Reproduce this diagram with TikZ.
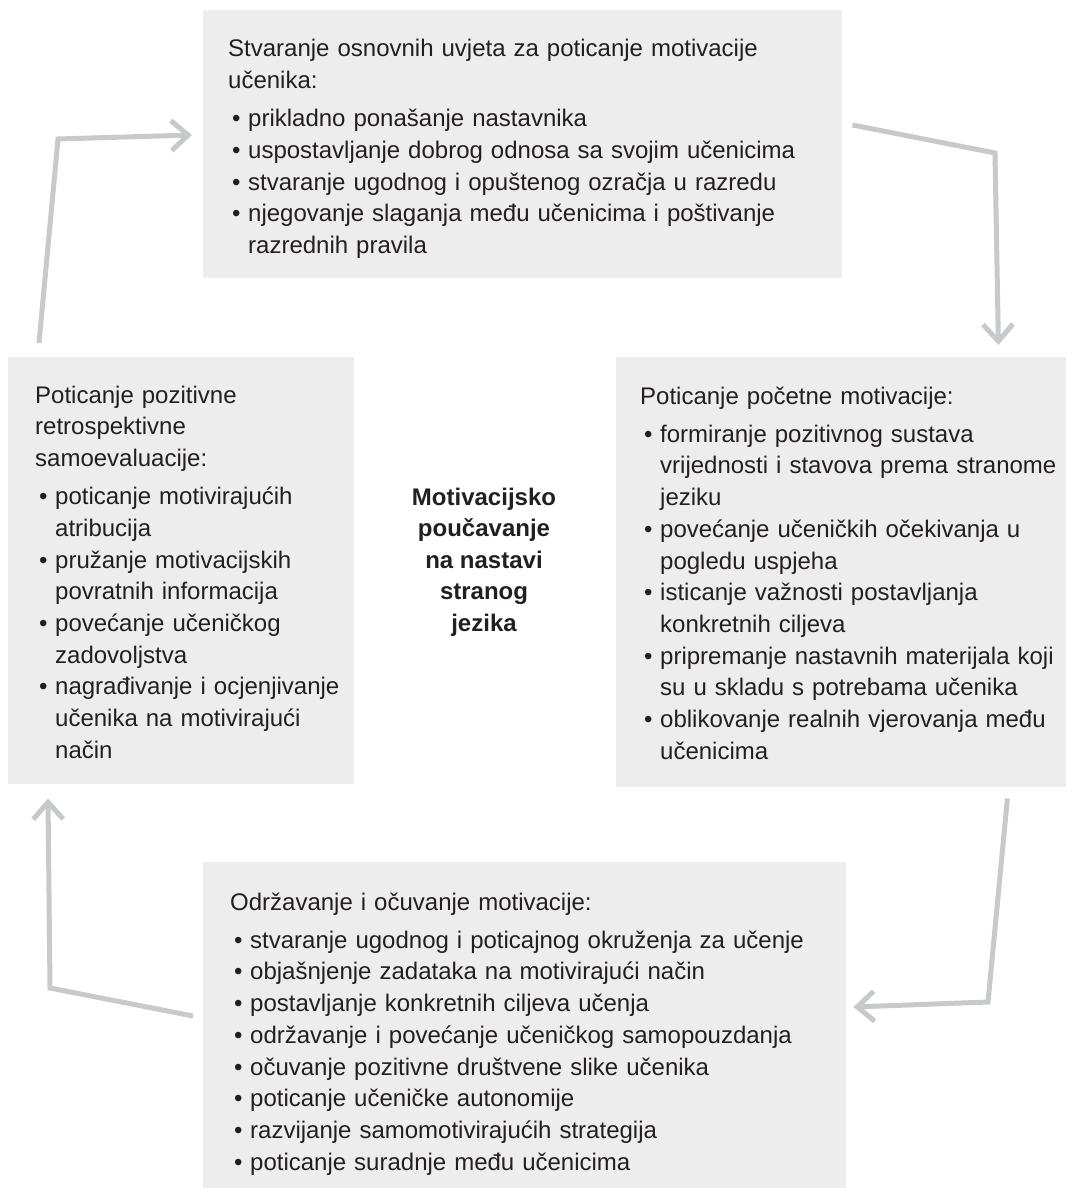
\documentclass[tikz,border=0pt]{standalone}
\usepackage{fontspec}
\setmainfont{Liberation Sans}
\usetikzlibrary{positioning,arrows.meta}
\definecolor{okvirsiva}{HTML}{EDEDED}
\definecolor{strelicasiva}{HTML}{C8C9CB}
\definecolor{tekst}{HTML}{231F20}
\newcommand{\naslov}[1]{#1\par\vspace{6.5pt}}
\newcommand{\stavka}[1]{\par\hangindent=20pt\hangafter=1\noindent\hspace*{4pt}\makebox[16pt][l]{\textbullet}#1\par}

\begin{document}
\begin{tikzpicture}[x=1pt, y=-1pt,
  okvir/.style={fill=okvirsiva, anchor=north west, inner sep=0pt},
  popis/.style={anchor=base west, inner sep=0pt, align=left, text=tekst, font=\fontsize{24}{31.7}\selectfont},
  sredina/.style={align=center, text=tekst, font=\bfseries\fontsize{24}{31.5}\selectfont},
  strelica/.style={draw=strelicasiva, line width=5pt, -{Straight Barb[length=17pt,width=30pt,sharp]}}
]
\useasboundingbox (0,0) rectangle (1075,1188);

\node[okvir, minimum width=639pt, minimum height=268pt] (uvjeti) at (203,10) {};
\node[okvir, minimum width=346pt, minimum height=427pt] (retro) at (8,357) {};
\node[okvir, minimum width=450pt, minimum height=430pt] (pocetna) at (616,357) {};
\node[okvir, minimum width=643pt, minimum height=326pt] (odrzavanje) at (203,862) {};

\node[popis, text width=600pt] (uvjeti-t) at ([shift={(25pt,-47pt)}]uvjeti.north west) {%
  \naslov{Stvaranje osnovnih uvjeta za poticanje motivacije\\učenika:}
  \stavka{prikladno ponašanje nastavnika}
  \stavka{uspostavljanje dobrog odnosa sa svojim učenicima}
  \stavka{stvaranje ugodnog i opuštenog ozračja u razredu}
  \stavka{njegovanje slaganja među učenicima i poštivanje\newline razrednih pravila}};

\node[popis, text width=315pt] (retro-t) at ([shift={(27pt,-46pt)}]retro.north west) {%
  \naslov{Poticanje pozitivne\\retrospektivne\\samoevaluacije:}
  \stavka{poticanje motivirajućih\newline atribucija}
  \stavka{pružanje motivacijskih\newline povratnih informacija}
  \stavka{povećanje učeničkog\newline zadovoljstva}
  \stavka{nagrađivanje i ocjenjivanje\newline učenika na motivirajući\newline način}};

\node[popis, text width=420pt] (pocetna-t) at ([shift={(24pt,-47pt)}]pocetna.north west) {%
  \naslov{Poticanje početne motivacije:}
  \stavka{formiranje pozitivnog sustava\newline vrijednosti i stavova prema stranome\newline jeziku}
  \stavka{povećanje učeničkih očekivanja u\newline pogledu uspjeha}
  \stavka{isticanje važnosti postavljanja\newline konkretnih ciljeva}
  \stavka{pripremanje nastavnih materijala koji\newline su u skladu s potrebama učenika}
  \stavka{oblikovanje realnih vjerovanja među\newline učenicima}};

\node[popis, text width=610pt] (odrzavanje-t) at ([shift={(27pt,-48pt)}]odrzavanje.north west) {%
  \naslov{Održavanje i očuvanje motivacije:}
  \stavka{stvaranje ugodnog i poticajnog okruženja za učenje}
  \stavka{objašnjenje zadataka na motivirajući način}
  \stavka{postavljanje konkretnih ciljeva učenja}
  \stavka{održavanje i povećanje učeničkog samopouzdanja}
  \stavka{očuvanje pozitivne društvene slike učenika}
  \stavka{poticanje učeničke autonomije}
  \stavka{razvijanje samomotivirajućih strategija}
  \stavka{poticanje suradnje među učenicima}};

\node[sredina] (sredina) at (484,562) {Motivacijsko\\poučavanje\\na nastavi\\stranog\\jezika};

\coordinate (k1) at (58,139);
\coordinate (k2) at (995,153);
\coordinate (k3) at (988,1002);
\coordinate (k4) at (50,988);

\draw[strelica] ([shift={(31pt,14pt)}]retro.north west) -- (k1) -- ([shift={(-11pt,-125pt)}]uvjeti.north west);
\draw[strelica] ([shift={(10pt,-115pt)}]uvjeti.north east) -- (k2) -- ([shift={(-68pt,12pt)}]pocetna.north east);
\draw[strelica] ([shift={(-59pt,-11pt)}]pocetna.south east) -- (k3) -- ([shift={(7pt,-145pt)}]odrzavanje.north east);
\draw[strelica] ([shift={(-10pt,-154pt)}]odrzavanje.north west) -- (k4) -- ([shift={(40pt,-14pt)}]retro.south west);
\end{tikzpicture}
\end{document}
